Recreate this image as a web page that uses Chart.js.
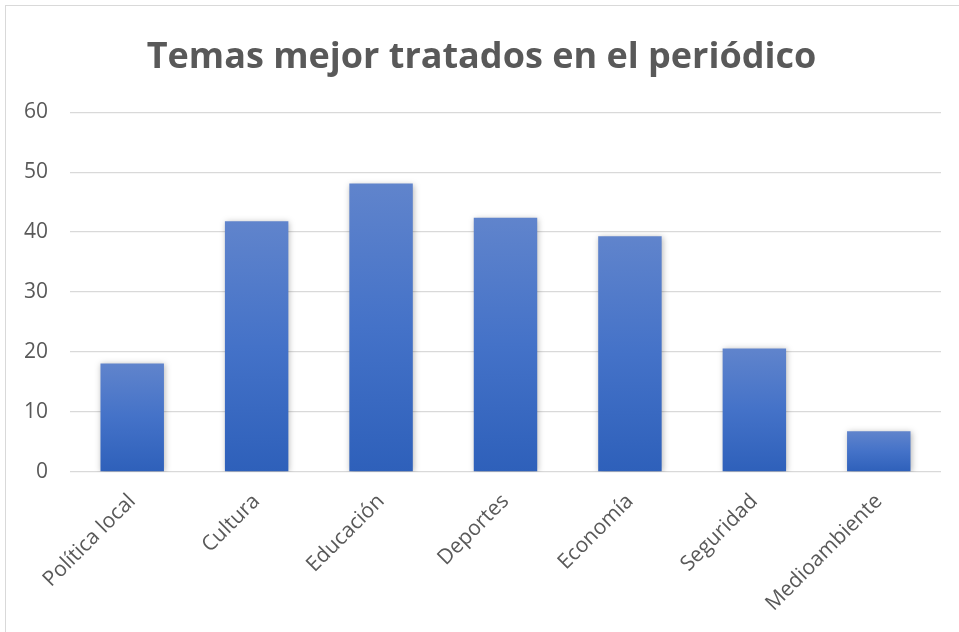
<!DOCTYPE html>
<html>
<head>
<meta charset="utf-8">
<script src="https://cdn.jsdelivr.net/npm/chart.js@4.4.1/dist/chart.umd.min.js"></script>
<style>
  html, body { margin: 0; padding: 0; background: #fff; }
  #wrap { position: relative; width: 959px; height: 632px; overflow: hidden; }
  #frame { position: absolute; left: 5px; top: 5px; width: 980px; height: 660px;
           border: 1px solid #d9d9d9; box-sizing: border-box; pointer-events: none; }
  canvas { position: absolute; left: 0; top: 0; }
</style>
</head>
<body>
<div id="wrap">
  <canvas id="chart" width="959" height="632"></canvas>
  <div id="frame"></div>
</div>
<script>
// --- DATI ---
const TITLE = "Temas mejor tratados en el periódico";
const CATEGORIES = ["Política local", "Cultura", "Educación", "Deportes", "Economía", "Seguridad", "Medioambiente"];
const VALUES = [18.1, 41.8, 48.1, 42.4, 39.3, 20.6, 6.8];
const Y_MIN = 0;
const Y_MAX = 60;
const Y_STEP = 10;

const TEXT = "#595959";
const GRID = "#d9d9d9";
const FONT = "'Open Sans', sans-serif";

// gradiente per singola barra (chiaro in alto, scuro in basso)
function barGradient(ctx) {
  const chart = ctx.chart;
  if (!chart.chartArea || ctx.type !== "data") return "#4472c4";
  const y = chart.scales.y;
  const top = y.getPixelForValue(ctx.raw);
  const base = y.getPixelForValue(0);
  const g = chart.ctx.createLinearGradient(0, top, 0, base);
  g.addColorStop(0, "#6084cc");
  g.addColorStop(0.5, "#4472c8");
  g.addColorStop(1, "#2e60ba");
  return g;
}

// ombra leggera sotto le barre
const shadowPlugin = {
  id: "barShadow",
  beforeDatasetDraw(chart) {
    const c = chart.ctx;
    c.save();
    c.shadowColor = "rgba(0,0,0,0.28)";
    c.shadowBlur = 6;
    c.shadowOffsetX = 1;
    c.shadowOffsetY = 1;
  },
  afterDatasetDraw(chart) {
    chart.ctx.restore();
  },
};

new Chart(document.getElementById("chart"), {
  type: "bar",
  data: {
    labels: CATEGORIES,
    datasets: [
      {
        data: VALUES,
        backgroundColor: barGradient,
        borderWidth: 0,
        barPercentage: 0.51,
        categoryPercentage: 1,
      },
    ],
  },
  plugins: [shadowPlugin],
  options: {
    responsive: false,
    animation: false,
    layout: { padding: { left: 22, right: 18, top: 0, bottom: 0 } },
    plugins: {
      legend: { display: false },
      tooltip: { enabled: false },
      title: {
        display: true,
        text: TITLE,
        color: TEXT,
        font: { family: FONT, size: 36, weight: "bold" },
        padding: { top: 36, bottom: 33 },
      },
    },
    scales: {
      x: {
        grid: { display: false, drawTicks: false },
        border: { display: false },
        ticks: {
          color: TEXT,
          font: { family: FONT, size: 21 },
          minRotation: 45,
          maxRotation: 45,
          padding: 17,
        },
        afterFit(scale) { scale.height = 160; },
      },
      y: {
        min: Y_MIN,
        max: Y_MAX,
        grid: { color: GRID, lineWidth: 1.3, drawTicks: false },
        border: { display: false },
        ticks: {
          stepSize: Y_STEP,
          color: TEXT,
          font: { family: FONT, size: 21 },
          padding: 22,
        },
        afterFit(scale) { scale.width = 48; },
      },
    },
  },
});
</script>
</body>
</html>
